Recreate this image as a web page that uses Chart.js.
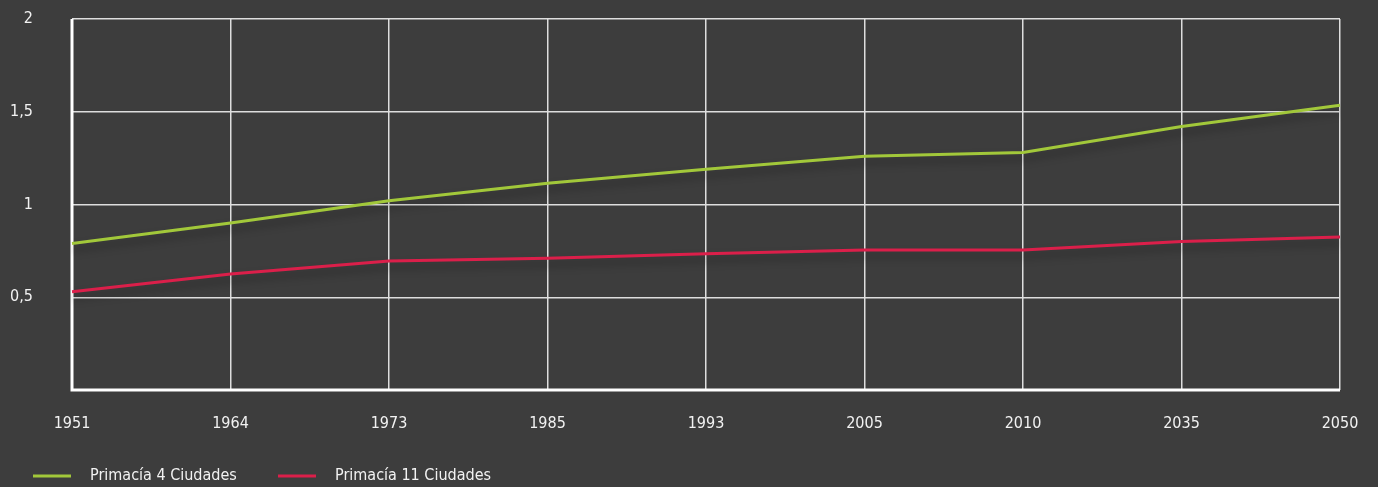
<!DOCTYPE html>
<html>
<head>
<meta charset="utf-8">
<script src="https://cdn.jsdelivr.net/npm/chart.js@4.4.0/dist/chart.umd.min.js"></script>
<style>
  html, body { margin: 0; padding: 0; background: #3d3d3d; }
  #wrap { width: 1378px; height: 487px; }
</style>
</head>
<body>
<div id="wrap"><canvas id="myChart" width="1378" height="487"></canvas></div>
<script>
var years = ['1951', '1964', '1973', '1985', '1993', '2005', '2010', '2035', '2050'];
var primacia4 = [0.79, 0.90, 1.02, 1.115, 1.19, 1.26, 1.28, 1.42, 1.535];
var primacia11 = [0.53, 0.625, 0.695, 0.71, 0.735, 0.755, 0.755, 0.80, 0.825];
var yTicks = [0, 0.5, 1, 1.5, 2];

var FONT = '"DejaVu Sans Condensed", "Liberation Sans Narrow", sans-serif';

var lineShadow = {
  id: 'lineShadow',
  beforeDatasetDraw: function (chart) {
    var ctx = chart.ctx;
    ctx.save();
    ctx.shadowColor = 'rgba(0,0,0,0.35)';
    ctx.shadowBlur = 8;
    ctx.shadowOffsetY = 6;
  },
  afterDatasetDraw: function (chart) {
    chart.ctx.restore();
  }
};

var borders = {
  id: 'borders',
  beforeDatasetsDraw: function (chart) {
    var ctx = chart.ctx, a = chart.chartArea;
    ctx.save();
    ctx.strokeStyle = '#ffffff';
    ctx.lineWidth = 3;
    ctx.beginPath();
    ctx.moveTo(a.left, a.top);
    ctx.lineTo(a.left, a.bottom);
    ctx.lineTo(a.right, a.bottom);
    ctx.stroke();
    ctx.restore();
  }
};

var bottomLegend = {
  id: 'bottomLegend',
  afterDraw: function (chart) {
    var ctx = chart.ctx;
    var starts = [33, 278];
    ctx.save();
    ctx.font = '16px ' + FONT;
    ctx.textBaseline = 'middle';
    chart.data.datasets.forEach(function (ds, i) {
      var x = starts[i], y = 476;
      ctx.fillStyle = ds.borderColor;
      ctx.fillRect(x, y - 1.5, 38, 3);
      ctx.fillStyle = '#f2f2f2';
      ctx.fillText(ds.label, x + 57, y);
    });
    ctx.restore();
  }
};

new Chart(document.getElementById('myChart'), {
  type: 'line',
  data: {
    labels: years,
    datasets: [{
      label: 'Primacía 4 Ciudades',
      data: primacia4,
      borderColor: '#a2c83a',
      borderWidth: 3,
      pointRadius: 0,
      tension: 0
    }, {
      label: 'Primacía 11 Ciudades',
      data: primacia11,
      borderColor: '#db1f4a',
      borderWidth: 3,
      pointRadius: 0,
      tension: 0
    }]
  },
  options: {
    responsive: false,
    animation: false,
    layout: { padding: { top: 19, right: 38, bottom: 0, left: 0 } },
    plugins: { legend: { display: false }, tooltip: { enabled: false } },
    scales: {
      x: {
        offset: false,
        grid: { color: '#dedede', lineWidth: 1.5, tickLength: 0, drawTicks: false },
        border: { display: false },
        ticks: { color: '#f2f2f2', font: { family: FONT, size: 16 }, padding: 24, maxRotation: 0, autoSkip: false },
        afterFit: function (s) { s.height = 97; s.paddingLeft = 0; s.paddingRight = 0; }
      },
      y: {
        min: 0,
        max: 2,
        afterBuildTicks: function (s) { s.ticks = yTicks.map(function (v) { return { value: v }; }); },
        grid: { color: '#dedede', lineWidth: 1.5, drawTicks: false },
        border: { display: false },
        ticks: {
          color: '#f2f2f2',
          font: { family: FONT, size: 16 },
          padding: 39,
          callback: function (v) { return v === 0 ? '' : String(v).replace('.', ','); }
        },
        afterFit: function (s) { s.width = 72; s.paddingTop = 0; s.paddingBottom = 0; }
      }
    }
  },
  plugins: [lineShadow, borders, bottomLegend]
});
</script>
</body>
</html>
